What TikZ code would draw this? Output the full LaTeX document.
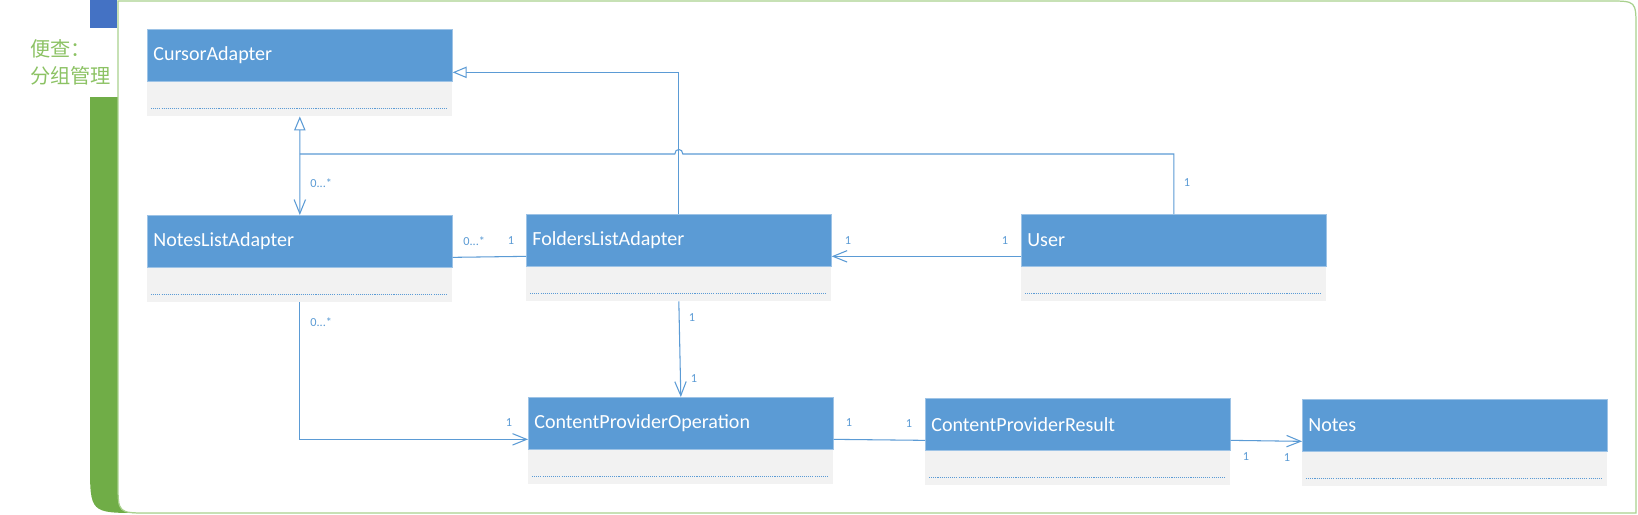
\documentclass[tikz,border=0pt]{standalone}
\usepackage{fontspec}
\setmainfont{Carlito}
\newfontfamily\cjk{Noto Sans CJK SC}
\usetikzlibrary{arrows.meta}

\definecolor{headblue}{RGB}{91,155,213}
\definecolor{headline}{RGB}{157,195,230}
\definecolor{bodygray}{RGB}{242,242,242}
\definecolor{linkblue}{RGB}{91,155,213}
\definecolor{barblue}{RGB}{68,114,196}
\definecolor{bargreen}{RGB}{112,173,71}
\definecolor{framegreen}{RGB}{169,209,142}
\definecolor{textgreen}{RGB}{140,194,100}

\tikzset{
  classhead/.style={anchor=north west, fill=headblue, draw=headline, line width=0.4pt,
    text width=5.86cm, inner xsep=0.12cm, inner ysep=0pt, minimum height=1.04cm,
    text=white, font=\fontsize{11.4}{13}\selectfont, align=left},
  classbody/.style={anchor=north west, fill=bodygray, minimum width=6.1cm,
    minimum height=0.68cm, inner sep=0pt},
  classdots/.style={linkblue, dash pattern=on 0.6pt off 0.6pt, line width=0.5pt},
  assoc/.style={linkblue, line width=0.6pt},
  inherit/.style={assoc, -{Triangle[open, length=8pt, width=6.5pt]}},
  navig/.style={assoc, -{Straight Barb[length=8pt, width=6.5pt]}},
  mult/.style={text=linkblue, font=\fontsize{7}{8}\selectfont, inner sep=0pt},
}

\newcommand{\umlclass}[4]{%
  \node[classhead] (#1) at (#2,#3) {#4};
  \node[classbody] (#1-b) at (#1.south west) {};
  \draw[classdots] ([shift={(4,27)}]#1-b.north west) -- ([shift={(-5,27)}]#1-b.north east);
}

\begin{document}
\begin{tikzpicture}[x=0.02cm, y=-0.02cm]
  \useasboundingbox (0,0) rectangle (1638,514);

  % side bar and frame
  \fill[barblue] (90,0) rectangle (117,28);
  \fill[bargreen] (90,97) -- (200,97) -- (200,513) -- (140,513) .. controls (90,513) .. (90,463) -- cycle;
  \draw[framegreen, line width=0.7pt, fill=white] (118,1) -- (1609,1) .. controls (1636,1) .. (1636,28)
    -- (1636,513) -- (148,513) .. controls (118,513) .. (118,483) -- cycle;
  \node[text=textgreen, font=\cjk\fontsize{11.5}{15.3}\selectfont, anchor=west, align=left,
    inner sep=0pt] (title) at (30,62) {便查：\\分组管理};

  \umlclass{Cursor}{147}{29}{CursorAdapter}
  \umlclass{NotesList}{147}{215}{NotesListAdapter}
  \umlclass{FoldersList}{526}{214}{FoldersListAdapter}
  \umlclass{User}{1021}{214}{User}
  \umlclass{CPOperation}{528}{397}{ContentProviderOperation}
  \umlclass{CPResult}{925}{398}{ContentProviderResult}
  \umlclass{Notes}{1302}{399}{Notes}

  % connectors
  \path (0,154) coordinate (lvl);
  \coordinate (hop) at (FoldersList.north |- lvl);
  \draw[inherit] (FoldersList.north) |- ([yshift=-0.34cm]Cursor.east);
  \draw[assoc] (User.north) |- ([xshift=0.08cm]hop)
    .. controls ([shift={(0.08cm,0.12cm)}]hop) and ([shift={(-0.08cm,0.12cm)}]hop) .. ([xshift=-0.08cm]hop)
    -- (Cursor-b.south |- lvl);
  \draw[assoc, {Triangle[open, length=8pt, width=6.5pt]}-{Straight Barb[length=8pt, width=6.5pt]}]
    (Cursor-b.south) -- (NotesList.north);
  \draw[assoc] ([yshift=-0.32cm]NotesList.east) -- ([yshift=-0.32cm]FoldersList.west);
  \draw[navig] ([yshift=-0.32cm]User.west) -- ([yshift=-0.32cm]FoldersList.east);
  \draw[navig] (FoldersList-b.south) -- (CPOperation.north);
  \draw[navig] (NotesList-b.south) |- ([yshift=-0.32cm]CPOperation.west);
  \draw[assoc] ([yshift=-0.32cm]CPOperation.east) -- ([yshift=-0.32cm]CPResult.west);
  \draw[navig] ([yshift=-0.32cm]CPResult.east) -- ([yshift=-0.32cm]Notes.west);

  % multiplicities
  \node[mult, anchor=west] (m1) at (310,183) {0...*};
  \node[mult] (m2) at (1187,183) {1};
  \node[mult, anchor=west] (m3) at (463,241) {0...*};
  \node[mult] (m4) at (511,241) {1};
  \node[mult] (m5) at (848,241) {1};
  \node[mult] (m6) at (1005,241) {1};
  \node[mult] (m7) at (692,318) {1};
  \node[mult] (m8) at (694,379) {1};
  \node[mult, anchor=west] (m9) at (310,322) {0...*};
  \node[mult] (m10) at (509,423) {1};
  \node[mult] (m11) at (849,423) {1};
  \node[mult] (m12) at (909,424) {1};
  \node[mult] (m13) at (1246,457) {1};
  \node[mult] (m14) at (1287,458) {1};
\end{tikzpicture}
\end{document}
